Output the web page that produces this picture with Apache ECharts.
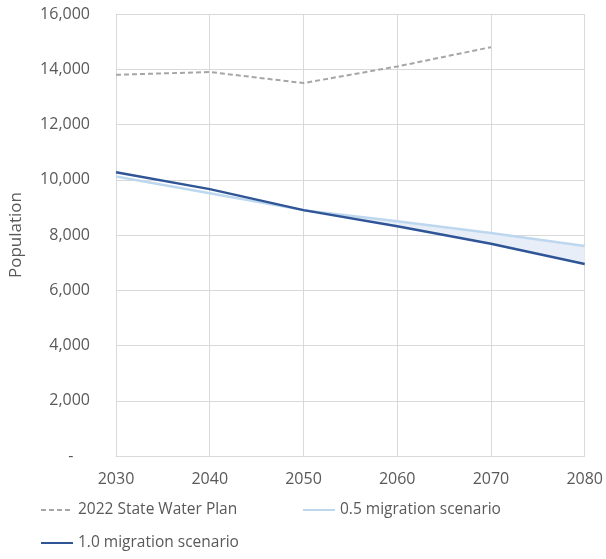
<!DOCTYPE html>
<html><head><meta charset="utf-8">
<script src="https://cdn.jsdelivr.net/npm/echarts@6/dist/echarts.min.js"></script>
<style>html,body{margin:0;padding:0;background:#fff}#c{width:606px;height:559px}</style>
</head><body><div id="c"></div>
<script>
const years = ['2030', '2040', '2050', '2060', '2070', '2080'];
const stateWaterPlan = [13800, 13900, 13500, 14100, 14800, null];
const migration05 = [10120, 9510, 8900, 8500, 8070, 7600];
const migration10 = [10270, 9660, 8900, 8320, 7680, 6950];
const yTicks = [0, 2000, 4000, 6000, 8000, 10000, 12000, 14000, 16000];

const band = migration05.map((v, i) => Math.max(0, v - migration10[i]));
const font = '"Open Sans", sans-serif';
const txt = '#595959';
const legendBase = {top: 502, padding: 0, itemWidth: 32, itemHeight: 10, itemGap: 5,
  textStyle: {color: txt, fontFamily: font, fontSize: 15.5}};

const chart = echarts.init(document.getElementById('c'));
chart.setOption({
  animation: false,
  grid: {left: 114, right: 21, top: 14, bottom: 103},
  xAxis: {
    type: 'category', data: years, boundaryGap: false,
    axisLine: {show: true, lineStyle: {color: '#d9d9d9', width: 1}},
    axisTick: {show: false},
    splitLine: {show: true, interval: 0, lineStyle: {color: '#d9d9d9', width: 1}},
    axisLabel: {color: txt, fontFamily: font, fontSize: 16, margin: 15, interval: 0}
  },
  yAxis: {
    type: 'value', min: yTicks[0], max: yTicks[yTicks.length - 1], interval: 2000,
    name: 'Population', nameLocation: 'middle', nameGap: 91,
    nameTextStyle: {color: txt, fontFamily: font, fontSize: 17},
    axisLine: {show: false}, axisTick: {show: false},
    splitLine: {lineStyle: {color: '#d9d9d9', width: 1}},
    axisLabel: {color: txt, fontFamily: font, fontSize: 16, margin: 26,
      formatter: v => v === 0 ? '-    ' : v.toLocaleString('en-US')}
  },
  legend: [
    Object.assign({}, legendBase, {data: [{name: '2022 State Water Plan', itemStyle: {opacity: 0}}], left: 40}),
    Object.assign({}, legendBase, {data: [{name: '0.5 migration scenario', itemStyle: {opacity: 0}}], left: 302}),
    Object.assign({}, legendBase, {data: [{name: '1.0 migration scenario', itemStyle: {opacity: 0}}], left: 40, top: 535})
  ],
  series: [
    {name: 'base', type: 'line', stack: 'band', data: migration10, symbol: 'none',
     lineStyle: {width: 0}, silent: true, z: 1},
    {name: 'bandfill', type: 'line', stack: 'band', data: band, symbol: 'none',
     lineStyle: {width: 0}, areaStyle: {color: '#e8eef8', opacity: 1}, silent: true, z: 1},
    {name: '0.5 migration scenario', type: 'line', data: migration05, symbol: 'none',
     lineStyle: {color: '#bdd7ee', width: 2.5}, itemStyle: {color: '#bdd7ee'}, z: 3},
    {name: '1.0 migration scenario', type: 'line', data: migration10, symbol: 'none',
     lineStyle: {color: '#2f5597', width: 2.5}, itemStyle: {color: '#2f5597'}, z: 4},
    {name: '2022 State Water Plan', type: 'line', data: stateWaterPlan, symbol: 'none',
     lineStyle: {color: '#a6a6a6', width: 2, type: [5, 3]}, itemStyle: {color: '#a6a6a6'}, z: 3}
  ]
});
</script></body></html>
